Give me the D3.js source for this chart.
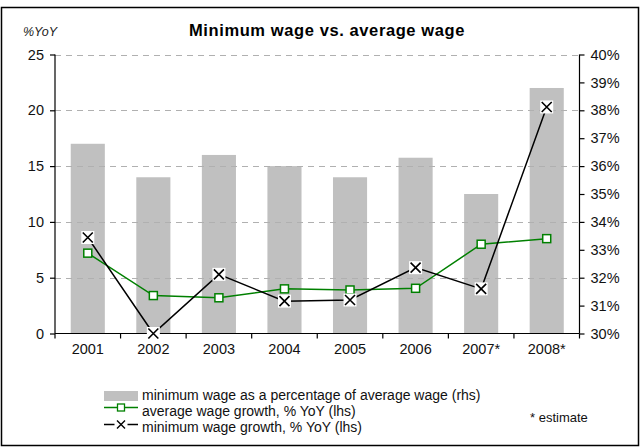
<!DOCTYPE html>
<html>
<head>
<meta charset="utf-8">
<script src="https://cdn.jsdelivr.net/npm/d3@7"></script>
<style>
  html, body { margin: 0; padding: 0; background: #fff; }
  svg { display: block; font-family: "Liberation Sans", Arial, sans-serif; }
</style>
</head>
<body>
<svg id="chart" width="641" height="448"></svg>
<script>
// Years on the category axis
const years = ["2001", "2002", "2003", "2004", "2005", "2006", "2007*", "2008*"];
// Minimum wage as a percentage of average wage (right axis, %)
const minWageShare = [36.8, 35.6, 36.4, 36.0, 35.6, 36.3, 35.0, 38.8];
// Average wage growth, % YoY (left axis)
const avgWageGrowth = [7.2, 3.4, 3.2, 4.0, 3.9, 4.05, 8.0, 8.5];
// Minimum wage growth, % YoY (left axis)
const minWageGrowth = [8.6, 0.0, 5.3, 2.9, 3.0, 5.9, 4.0, 20.3];
// Axis ticks
const leftTicks = [0, 5, 10, 15, 20, 25];
const rightTicks = [30, 31, 32, 33, 34, 35, 36, 37, 38, 39, 40];

const svg = d3.select("#chart");
const plot = { left: 55, right: 579.5, top: 54.5, bottom: 333.5 };

const x = d3.scaleBand().domain(years).range([plot.left, plot.right]).padding(0);
const barW = x.bandwidth() * 0.52;
const cx = d => x(d) + x.bandwidth() / 2;
const yL = d3.scaleLinear().domain([0, 25]).range([plot.bottom, plot.top]);
const yR = d3.scaleLinear().domain([30, 40]).range([plot.bottom, plot.top]);

// Outer frame
svg.append("rect").attr("x", 1.5).attr("y", 7.5).attr("width", 637).attr("height", 438)
  .attr("fill", "none").attr("stroke", "#000").attr("stroke-width", 1.5);

// Title and left unit label
svg.append("text").attr("x", 327).attr("y", 36).attr("text-anchor", "middle")
  .attr("font-size", 16.5).attr("font-weight", "bold").attr("letter-spacing", 0.6)
  .text("Minimum wage vs. average wage");
svg.append("text").attr("x", 23).attr("y", 36).attr("font-size", 12.5)
  .attr("font-style", "italic").attr("fill", "#222").text("%YoY");

// Bars: minimum wage share (right scale)
svg.append("g").selectAll("rect").data(years).join("rect")
  .attr("x", d => cx(d) - barW / 2)
  .attr("width", barW)
  .attr("y", (d, i) => yR(minWageShare[i]))
  .attr("height", (d, i) => plot.bottom - yR(minWageShare[i]))
  .attr("fill", "#c0c0c0");

// Dashed horizontal gridlines
svg.append("g").selectAll("line").data(leftTicks.filter(t => t > 0)).join("line")
  .attr("x1", plot.left).attr("x2", plot.right)
  .attr("y1", d => Math.round(yL(d)) + 0.5).attr("y2", d => Math.round(yL(d)) + 0.5)
  .attr("stroke", "#b0b0b0").attr("stroke-width", 1.2).attr("stroke-dasharray", "6,5");

// Left axis
const axL = svg.append("g").attr("transform", `translate(${plot.left},0)`)
  .call(d3.axisLeft(yL).tickValues(leftTicks).tickSize(5).tickPadding(6));
// Right axis
const axR = svg.append("g").attr("transform", `translate(${plot.right},0)`)
  .call(d3.axisRight(yR).tickValues(rightTicks).tickSize(5).tickPadding(6).tickFormat(d => d + "%"));
// Bottom axis: labels centred in each slot, ticks on slot boundaries
const axB = svg.append("g").attr("transform", `translate(0,${plot.bottom})`)
  .call(d3.axisBottom(x).tickSize(0).tickPadding(20));
axB.selectAll(".tick text").attr("dy", 0);
axB.append("g").selectAll("line").data(years.map(d => x(d)).concat([plot.right])).join("line")
  .attr("x1", d => d).attr("x2", d => d).attr("y1", 0).attr("y2", 5)
  .attr("stroke", "#000").attr("stroke-width", 1.2);

[axL, axR, axB].forEach(g => {
  g.select(".domain").attr("stroke", "#000").attr("stroke-width", 1.2);
  g.selectAll(".tick line").attr("stroke", "#000").attr("stroke-width", 1.2);
  g.selectAll(".tick text").attr("font-size", 14.5).attr("fill", "#111")
    .attr("font-family", "'Liberation Sans', Arial, sans-serif");
});
axL.select(".domain").attr("d", `M0,${plot.top}V${plot.bottom}`);
axR.select(".domain").attr("d", `M0,${plot.top}V${plot.bottom}`);
axB.select(".domain").attr("d", `M${plot.left},0H${plot.right}`);

// Line generators
const lineL = d3.line().x((d, i) => cx(years[i])).y(d => yL(d));

// Average wage growth (green, square markers)
svg.append("path").datum(avgWageGrowth).attr("d", lineL)
  .attr("fill", "none").attr("stroke", "#008000").attr("stroke-width", 1.5);
// Minimum wage growth (black, cross markers)
svg.append("path").datum(minWageGrowth).attr("d", lineL)
  .attr("fill", "none").attr("stroke", "#000").attr("stroke-width", 1.5);

svg.append("g").selectAll("rect").data(avgWageGrowth).join("rect")
  .attr("x", (d, i) => cx(years[i]) - 4).attr("y", d => yL(d) - 4)
  .attr("width", 8).attr("height", 8)
  .attr("fill", "#fff").attr("stroke", "#008000").attr("stroke-width", 1.5);

function crossMarker(g, px, py) {
  g.append("rect").attr("x", px - 6.5).attr("y", py - 6.5).attr("width", 13).attr("height", 13).attr("fill", "#fff");
  g.append("path").attr("d", `M${px - 5},${py - 5}L${px + 5},${py + 5}M${px + 5},${py - 5}L${px - 5},${py + 5}`)
    .attr("stroke", "#000").attr("stroke-width", 1.6);
}
const crosses = svg.append("g");
minWageGrowth.forEach((d, i) => crossMarker(crosses, cx(years[i]), yL(d)));

// Legend
const leg = svg.append("g").attr("font-size", 14).attr("fill", "#111");
leg.append("rect").attr("x", 104).attr("y", 391).attr("width", 34).attr("height", 10).attr("fill", "#c0c0c0");
leg.append("text").attr("x", 142).attr("y", 400).text("minimum wage as a percentage of average wage (rhs)");

leg.append("line").attr("x1", 104).attr("x2", 138).attr("y1", 407.5).attr("y2", 407.5)
  .attr("stroke", "#008000").attr("stroke-width", 1.5);
leg.append("rect").attr("x", 117.5).attr("y", 404).attr("width", 7).attr("height", 7)
  .attr("fill", "#fff").attr("stroke", "#008000").attr("stroke-width", 1.3);
leg.append("text").attr("x", 142).attr("y", 416).text("average wage growth, % YoY (lhs)");

leg.append("line").attr("x1", 104).attr("x2", 138).attr("y1", 424.5).attr("y2", 424.5)
  .attr("stroke", "#000").attr("stroke-width", 1.5);
leg.append("rect").attr("x", 114.5).attr("y", 418.5).attr("width", 13).attr("height", 12).attr("fill", "#fff");
leg.append("path").attr("d", "M117,420.5L125,428.5M125,420.5L117,428.5").attr("stroke", "#000").attr("stroke-width", 1.4);
leg.append("text").attr("x", 142).attr("y", 432).text("minimum wage growth, % YoY (lhs)");

svg.append("text").attr("x", 530).attr("y", 422).attr("font-size", 13).attr("fill", "#111").text("* estimate");
</script>
</body>
</html>
